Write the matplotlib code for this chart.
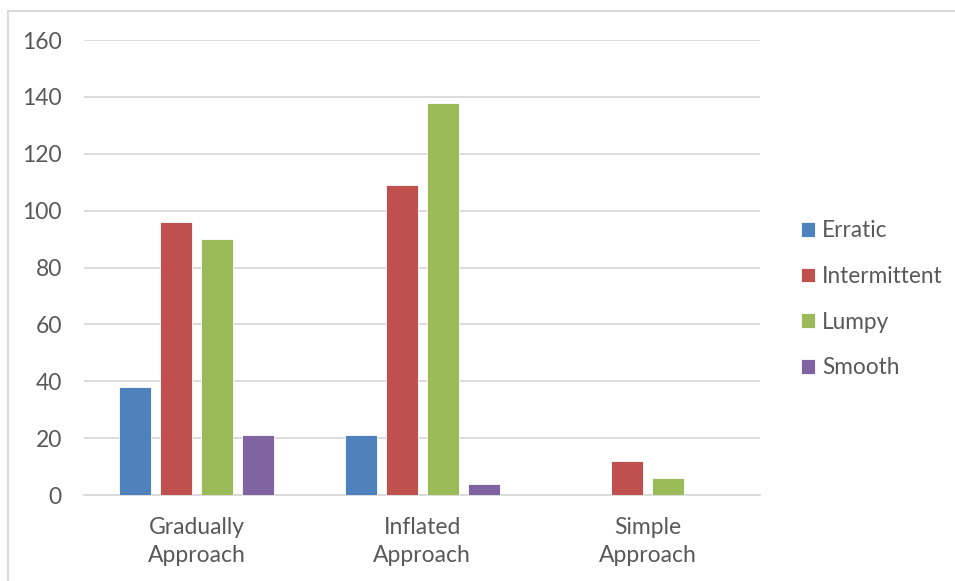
import matplotlib
matplotlib.use("Agg")
import matplotlib.pyplot as plt
from matplotlib.lines import Line2D
import numpy as np

categories = ["Gradually\nApproach", "Inflated\nApproach", "Simple\nApproach"]
series_names = ["Erratic", "Intermittent", "Lumpy", "Smooth"]
erratic = [38, 21, 0]
intermittent = [96, 109, 12]
lumpy = [90, 138, 6]
smooth = [21, 4, 0]
yticks = [0, 20, 40, 60, 80, 100, 120, 140, 160]

series = [erratic, intermittent, lumpy, smooth]
colors = ["#4F81BD", "#C0504D", "#9BBB59", "#8064A2"]
text_color = "#595959"
grid_color = "#D9D9D9"

plt.rcParams["font.family"] = ["Lato", "DejaVu Sans"]

fig = plt.figure(figsize=(9.55, 5.81), dpi=100)
ax = fig.add_axes([0.088, 0.148, 0.708, 0.783])

x = np.arange(len(categories))
bar_w = 0.142
step = 0.182
offsets = (np.arange(len(series)) - 1.5) * step
for vals, off, col, name in zip(series, offsets, colors, series_names):
    ax.bar(x + off, vals, width=bar_w, color=col, edgecolor="white",
           linewidth=0.6, label=name, zorder=3)

ax.set_xlim(-0.5, len(categories) - 0.5)
ax.set_ylim(0, 160)
ax.set_yticks(yticks)
ax.set_xticks(x)
ax.set_xticklabels(categories, linespacing=1.42)
ax.yaxis.grid(True, color=grid_color, linewidth=1.3, zorder=0)
ax.set_axisbelow(True)
for s in ["top", "right", "left"]:
    ax.spines[s].set_visible(False)
ax.spines["bottom"].set_color(grid_color)
ax.spines["bottom"].set_linewidth(1.3)
ax.tick_params(axis="both", length=0, labelsize=16.5, colors=text_color)
ax.tick_params(axis="y", pad=16)
ax.tick_params(axis="x", pad=16)

leg = ax.legend(loc="center left", bbox_to_anchor=(1.061, 0.43), frameon=False,
                fontsize=16.3, handlelength=0.62, handleheight=0.62,
                handletextpad=0.3, labelspacing=1.09, borderaxespad=0.0,
                borderpad=0.0)
for t in leg.get_texts():
    t.set_color(text_color)

# light outer frame along the top and left edges
fig.add_artist(Line2D([8 / 955, 1.0], [1 - 10.5 / 581, 1 - 10.5 / 581],
                      transform=fig.transFigure, color="#D9D9D9", linewidth=1.5))
fig.add_artist(Line2D([8 / 955, 8 / 955], [0.0, 1 - 10.5 / 581],
                      transform=fig.transFigure, color="#D9D9D9", linewidth=1.5))

fig.savefig("out.png", dpi=100)
